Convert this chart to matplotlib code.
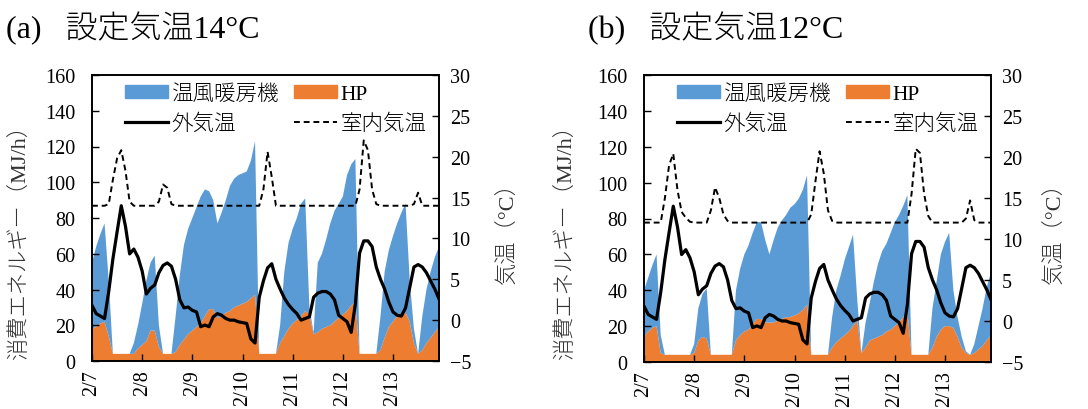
import numpy as np
import matplotlib
matplotlib.use('Agg')
import matplotlib.pyplot as plt

plt.rcParams['font.family'] = ['Liberation Serif', 'Noto Sans CJK JP']
plt.rcParams['font.weight'] = 'light'

# 2-hour steps, 2/7 0:00 .. 2/13 22:00
hours = np.arange(0, 167, 2)
day_ticks = np.arange(0, 145, 24)
day_labels = ['2/7', '2/8', '2/9', '2/10', '2/11', '2/12', '2/13']

# outdoor temperature (same for both cases), degC
outdoor_temp = [
    1.8, 0.8, 0.5, 0.2, 3.5, 7.5, 10.8, 14.0, 11.5, 8.1, 8.7, 7.7,
    6.0, 3.2, 3.9, 4.3, 5.8, 6.7, 7.0, 6.6, 5.0, 2.5, 1.5, 1.6,
    1.2, 1.0, -0.8, -0.6, -0.8, 0.4, 0.8, 0.6, 0.2, 0.0, 0.0, -0.2,
    -0.3, -0.4, -2.3, -2.8, 2.8, 4.8, 6.4, 6.9, 5.0, 3.8, 2.7, 1.9,
    1.3, 0.8, 0.0, 0.2, 0.4, 2.8, 3.3, 3.5, 3.5, 3.2, 2.5, 0.6,
    0.2, -0.2, -1.5, 2.0, 8.2, 9.7, 9.7, 9.0, 6.5, 5.0, 3.8, 2.2,
    1.0, 0.6, 0.5, 1.5, 4.0, 6.5, 6.8, 6.5, 5.8, 4.8, 3.8, 2.6,
]

# (a) set point 14 degC
hp_14 = [
    18, 19, 21, 22, 14, 4, 4, 4, 4, 4, 4, 7,
    9, 11, 17, 17, 8, 4, 4, 4, 5, 9, 12, 15,
    17, 19, 21, 25, 29, 29, 24, 25, 27, 28, 30, 31,
    32, 33, 35, 37, 4, 4, 4, 4, 4, 10, 14, 18,
    21, 23, 25, 28, 26, 15, 16, 18, 19, 20, 22, 24,
    26, 28, 31, 33, 4, 4, 4, 4, 4, 6, 13, 19,
    22, 25, 26, 27, 22, 10, 4, 6, 10, 13, 16, 19,
]
heater_14 = [
    37, 45, 50, 55, 31, 0, 0, 0, 0, 0, 6, 13,
    23, 34, 38, 42, 12, 0, 0, 0, 20, 39, 53, 59,
    63, 67, 71, 71, 66, 61, 53, 58, 63, 70, 72, 73,
    73, 73, 77, 86, 0, 0, 0, 0, 0, 10, 36, 48,
    53, 57, 63, 63, 4, 1, 39, 42, 49, 57, 62, 64,
    66, 76, 79, 80, 0, 0, 0, 0, 0, 19, 37, 43,
    48, 52, 57, 61, 23, 8, 0, 19, 30, 37, 42, 45,
]
indoor_14 = [
    14, 14, 14, 14, 14.2, 17.2, 19.8, 20.8, 18.3, 14.5, 14, 14,
    14, 14, 14, 14, 14.5, 16.6, 16.2, 14.2, 14, 14, 14, 14,
    14, 14, 14, 14, 14, 14, 14, 14, 14, 14, 14, 14,
    14, 14, 14, 14, 14, 16.0, 20.6, 17.5, 14, 14, 14, 14,
    14, 14, 14, 14, 14, 14, 14, 14, 14, 14, 14, 14,
    14, 14, 14, 14, 16.0, 22.0, 20.8, 16.0, 14.2, 14, 14, 14,
    14, 14, 14, 14, 14, 14.2, 15.6, 14, 14, 14, 14, 14,
]

# (b) set point 12 degC
hp_12 = [
    14, 17, 19, 20, 5, 4, 4, 4, 4, 4, 4, 4,
    5, 12, 14, 13, 4, 4, 4, 4, 4, 4, 12, 15,
    17, 18, 21, 24, 24, 22, 22, 22, 23, 24, 25, 25,
    26, 27, 29, 32, 4, 4, 4, 4, 4, 8, 11, 13,
    15, 17, 20, 23, 5, 8, 12, 13, 14, 15, 17, 18,
    20, 22, 25, 28, 4, 4, 4, 4, 4, 8, 14, 18,
    20, 20, 19, 14, 8, 5, 4, 5, 7, 9, 12, 15,
]
heater_12 = [
    26, 30, 35, 40, 10, 0, 0, 0, 0, 0, 0, 0,
    5, 18, 24, 28, 0, 0, 0, 0, 0, 0, 28, 37,
    43, 47, 51, 54, 54, 46, 38, 46, 52, 55, 57, 61,
    62, 64, 67, 72, 0, 0, 0, 0, 0, 17, 29, 35,
    42, 47, 51, 12, 0, 14, 21, 32, 41, 47, 49, 54,
    58, 60, 62, 65, 0, 0, 0, 0, 0, 22, 31, 42,
    47, 52, 21, 11, 6, 1, 0, 5, 13, 21, 30, 35,
]
indoor_12 = [
    12, 12, 12, 12, 12, 15.0, 19.0, 20.4, 16.0, 13.3, 12.6, 12.1,
    12, 12, 12, 12, 13.5, 16.3, 15.0, 13.0, 12.2, 12, 12, 12,
    12, 12, 12, 12, 12, 12, 12, 12, 12, 12, 12, 12,
    12, 12, 12, 12, 13.0, 17.0, 20.7, 18.0, 13.5, 12.2, 12, 12,
    12, 12, 12, 12, 12, 12, 12, 12, 12, 12, 12, 12,
    12, 12, 12, 12, 15.5, 21.0, 20.5, 15.5, 12.8, 12, 12, 12,
    12, 12, 12, 12, 12, 12.5, 14.7, 12.3, 12, 12, 12, 12,
]

c_heater = '#5B9BD5'
c_hp = '#ED7D31'


def draw_panel(fig, rect, hp, heater, indoor, title, title_x, ylab_x, rlab_x):
    ax = fig.add_axes(rect)
    ax.stackplot(hours, hp, heater, colors=[c_hp, c_heater], linewidth=0)
    ax.set_xlim(0, 166)
    ax.set_ylim(0, 160)
    ax.set_yticks(np.arange(0, 161, 20))
    ax.set_xticks(day_ticks)
    ax.set_xticklabels(day_labels, rotation=90)
    ax.tick_params(axis='y', direction='in', length=5, width=1, labelsize=14.5, pad=12)
    ax.tick_params(axis='x', direction='in', length=5, width=1, labelsize=14.5, pad=6)

    ax2 = ax.twinx()
    l1, = ax2.plot(hours, outdoor_temp, color='black', lw=2.3)
    l2, = ax2.plot(hours, indoor, color='black', lw=1.4, ls=(0, (3, 2)))
    ax2.set_ylim(-5, 30)
    ax2.set_yticks(np.arange(-5, 31, 5))
    ax2.tick_params(axis='y', direction='in', length=5, width=1, labelsize=14.5, pad=8)
    for a in (ax, ax2):
        for s in a.spines.values():
            s.set_linewidth(1.2)

    h_heat = plt.Rectangle((0, 0), 1, 1, color=c_heater)
    h_hp = plt.Rectangle((0, 0), 1, 1, color=c_hp)
    ax2.legend([h_heat, l1, h_hp, l2], ['温風暖房機', '外気温', 'HP', '室内気温'],
               ncol=2, loc='upper left', bbox_to_anchor=(0.09, 0.975),
               frameon=False, fontsize=15.5, handlelength=2.0, handleheight=0.55,
               handletextpad=0.15, columnspacing=0.7, labelspacing=0.45,
               borderpad=0.1, borderaxespad=0)

    fig.text(title_x, 1 - 28 / 410, title, fontsize=23, ha='left', va='center')
    fig.text(ylab_x, 1 - 237 / 410, '消費エネルギー（MJ/h）', fontsize=16,
             rotation=90, ha='center', va='center', color='#333333')
    fig.text(rlab_x, 1 - 228 / 410, '気温（°C）', fontsize=16,
             rotation=90, ha='center', va='center', color='#333333')


fig = plt.figure(figsize=(10.88, 4.10), dpi=100)
draw_panel(fig, [92 / 1088, 48 / 410, 347 / 1088, 286 / 410], hp_14, heater_14, indoor_14,
           '(a)   設定気温14°C', 6 / 1088, 20 / 1088, 508 / 1088)
draw_panel(fig, [644 / 1088, 47 / 410, 347 / 1088, 287 / 410], hp_12, heater_12, indoor_12,
           '(b)   設定気温12°C', 588 / 1088, 566 / 1088, 1055 / 1088)

fig.savefig('out.png', dpi=100)
